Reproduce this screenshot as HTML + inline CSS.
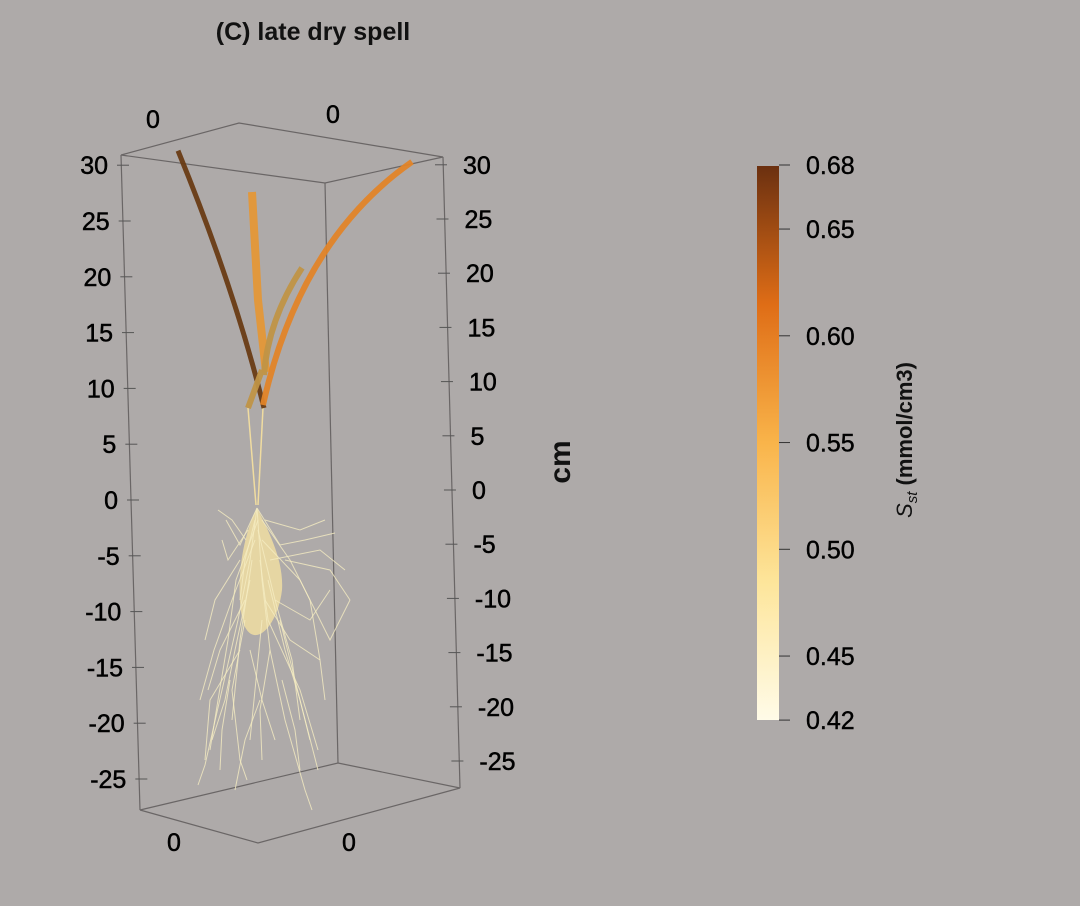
<!DOCTYPE html>
<html><head><meta charset="utf-8"><style>
body{margin:0;background:#aeaaa9;}
svg{display:block;font-family:"Liberation Sans",sans-serif;}
</style></head><body>
<svg width="1080" height="906" viewBox="0 0 1080 906">
<rect width="1080" height="906" fill="#aeaaa9"/>
<text x="313" y="40" text-anchor="middle" font-size="25" font-weight="bold" fill="#111">(C) late dry spell</text>
<g id="box" stroke="#6a6666" stroke-width="1.2" fill="none">
<polyline points="121,155 239,123 443,157 325,183 121,155"/>
<line x1="121" y1="155" x2="140" y2="810"/>
<line x1="325" y1="183" x2="338" y2="763"/>
<line x1="443" y1="157" x2="460" y2="788"/>
<polyline points="140,810 258,843 460,788 338,763 140,810"/>
</g>
<g id="ticks"></g>
<g id="roots"></g>
<g id="shoot"></g>
<text x="0" y="0" transform="translate(570,462) rotate(-90)" text-anchor="middle" font-size="30" font-weight="bold" fill="#111">cm</text>
<defs><linearGradient id="cb" x1="0" y1="1" x2="0" y2="0">
<stop offset="0" stop-color="#fffbe8"/><stop offset="0.25" stop-color="#fde59a"/><stop offset="0.5" stop-color="#f9b44a"/><stop offset="0.75" stop-color="#df6d16"/><stop offset="1" stop-color="#6b3010"/></linearGradient></defs>
<rect x="757" y="166" width="22" height="554" fill="url(#cb)"/>
<g id="cbt"></g>
<text transform="translate(912,440) rotate(-90)" text-anchor="middle" font-size="22" font-weight="bold" fill="#111"><tspan font-style="italic" font-weight="normal">S</tspan><tspan font-style="italic" font-weight="normal" font-size="15" dy="5">st</tspan><tspan dy="-5"> (mmol/cm3)</tspan></text>
</svg>
<script>
const NS="http://www.w3.org/2000/svg";
const zTicks=[30,25,20,15,10,5,0,-5,-10,-15,-20,-25];
const cbTicks=[0.68,0.65,0.60,0.55,0.50,0.45,0.42];
const leafVals=[0.675,0.57,0.535,0.59];
const leafTopZ=[31.3,27.6,20.8,30.3];
function mk(t,a,p){const e=document.createElementNS(NS,t);for(const k in a)e.setAttribute(k,a[k]);(p).appendChild(e);return e;}
const zl=z=>500-z*11.16, zr=z=>490-z*10.84;
const xl=z=>121+(30-z)/57*19, xr=z=>443+(30-z)/57*17;
const T=document.getElementById('ticks');
zTicks.forEach(z=>{
 let e=mk('line',{x1:xl(z)-4,x2:xl(z)+8,y1:zl(z),y2:zl(z),stroke:'#555'},T);
 
 let t=mk('text',{x:xl(z)-13,y:zl(z)+9,'text-anchor':'end','font-size':25,fill:'#000',stroke:'#000','stroke-width':0.5},T);t.textContent=z;
 
 e=mk('line',{x1:xr(z)-8,x2:xr(z)+4,y1:zr(z),y2:zr(z),stroke:'#555'},T);
 
 t=mk('text',{x:xr(z)+20,y:zr(z)+9,'font-size':25,fill:'#000',stroke:'#000','stroke-width':0.5},T);t.textContent=z;
 
});
[[153,128],[333,123],[174,851],[349,851]].forEach(p=>{const t=mk('text',{x:p[0],y:p[1],'text-anchor':'middle','font-size':25,fill:'#000',stroke:'#000','stroke-width':0.5},T);t.textContent='0';
 });
const cy=v=>165+(0.68-v)*2135;
const C=document.getElementById('cbt');
cbTicks.forEach(v=>{const l=mk('line',{x1:779,x2:790,y1:cy(v),y2:cy(v),stroke:'#333'},C);
 
 const t=mk('text',{x:806,y:cy(v)+9,'font-size':25,fill:'#000',stroke:'#000','stroke-width':0.4},C);t.textContent=v.toFixed(2);
 });
function col(v){const s=[[0.42,[255,251,232]],[0.485,[253,229,154]],[0.55,[230,170,70]],[0.615,[223,109,22]],[0.68,[95,55,20]]];
 for(let i=1;i<s.length;i++)if(v<=s[i][0]){const f=(v-s[i-1][0])/(s[i][0]-s[i-1][0]);const a=s[i-1][1],b=s[i][1];return`rgb(${a.map((c,j)=>Math.round(c+(b[j]-c)*f)).join(',')})`;}return'rgb(95,55,20)';}
const S=document.getElementById('shoot');
[[248,408,256,505],[263,408,258,505]].forEach(p=>{const e=mk('path',{d:`M${p[0]},${p[1]} L${p[2]},${p[3]}`,stroke:'#f0dca0','stroke-width':1.5,fill:'none'},S);
 });
const paths=[
 (y)=>`M178,${y} Q235,290 264,408`,
 (y)=>`M252,${y} L258,300 L266,372`,
 (y)=>`M302,${y} Q268,320 264,375 M262,370 L248,408`,
 (y)=>`M412,${y} Q300,240 263,405`];
const widths=[5,8,6,6];
leafVals.forEach((v,i)=>{const y=zl(leafTopZ[i]);
 const e=mk('path',{d:paths[i](y),stroke:i==2?'#c09446':col(v),'stroke-width':widths[i],fill:'none','stroke-linecap':'butt',opacity:0.95},S);
 });
const R=document.getElementById('roots');
const blob=mk('path',{d:"M257,508 C238,545 236,600 244,625 C255,650 278,625 282,590 C284,560 268,530 257,508 Z",fill:'#f8e4a2',opacity:0.75},R);

const rootPaths=[
"M257,508 L250,560 L238,620 L222,690 L205,765 L198,785","M257,508 L262,580 L270,650 L285,720 L305,790 L312,810",
"M257,508 L240,545 L226,520","M257,508 L280,545 L305,540 L335,533","M262,540 L300,580 L330,640 L350,600",
"M255,540 L232,600 L214,650 L200,700","M260,560 L268,620 L300,690 L318,750","M250,580 L235,650 L225,700 L212,740",
"M265,600 L290,640 L320,660 L325,700","M245,620 L232,690 L240,760 L247,780","M270,650 L260,710 L262,760",
"M255,520 L245,560 L240,600","M262,520 L290,560 L310,600 L320,660","M240,650 L210,700 L205,760","M280,620 L300,700 L318,770",
"M260,700 L245,740 L235,790","M285,560 L330,570 L350,600","M248,530 L228,560 L222,540",
"M258,520 L236,580 L228,640 L218,700 L210,750","M258,530 L275,600 L292,660 L300,720","M252,560 L240,640 L232,720",
"M268,580 L285,650 L300,700 L310,740","M245,600 L220,650 L208,690","M275,600 L310,620 L330,590","M262,620 L255,690 L250,740",
"M250,650 L262,700 L275,740","M270,560 L320,550 L345,570","M240,560 L215,600 L205,640","M282,680 L295,730 L300,770",
"M230,680 L222,730 L220,770","M265,520 L300,530 L325,520","M246,540 L232,520 L218,510"];
rootPaths.forEach(d=>{const e=mk('path',{d,stroke:'#f5ecc2','stroke-width':1,fill:'none',opacity:0.8},R);
 });
</script>
</body></html>
